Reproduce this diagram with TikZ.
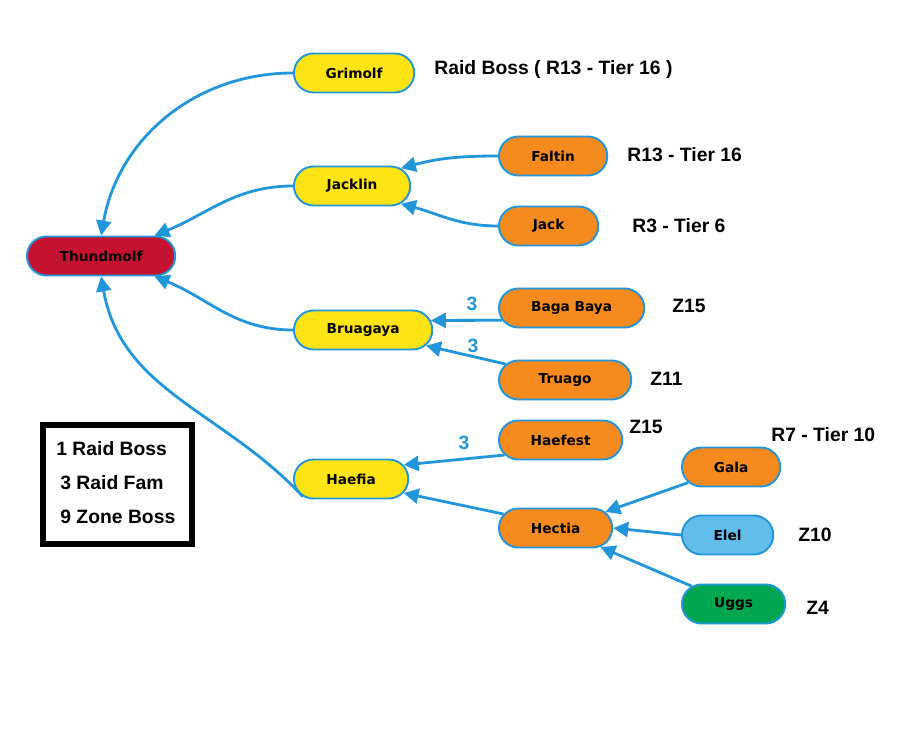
\documentclass[tikz,border=0pt]{standalone}
\usepackage{xcolor}
\usepackage{fontspec}
\setmainfont{Liberation Sans}
\newfontfamily\boxfont{DejaVu Sans}
\usepackage{tikz}
\usetikzlibrary{shapes,arrows.meta,positioning,shapes.misc}
\definecolor{myblue}{RGB}{33,150,219}
\definecolor{myyellow}{RGB}{255,228,20}
\definecolor{myred}{RGB}{196,18,48}
\definecolor{myorange}{RGB}{245,138,31}
\definecolor{mylightblue}{RGB}{98,189,235}
\definecolor{mygreen}{RGB}{0,166,80}

\begin{document}
\begin{tikzpicture}[
  box/.style={rounded rectangle, draw=myblue, line width=1.1pt,
              minimum height=0.78cm, anchor=west, text=black,
              font=\boxfont\bfseries\fontsize{7.8}{9}\selectfont},
  lbl/.style={anchor=west, inner sep=0pt, font=\bfseries\fontsize{11}{13}\selectfont},
  num/.style={text=myblue, inner sep=0pt, font=\bfseries\fontsize{11}{13}\selectfont},
  link/.style={draw=myblue, line width=1.6pt, -{Triangle[length=8.5pt,width=8.5pt]}}
]
  \useasboundingbox (0,0) rectangle (18.18,-14.58);

  \node[box, fill=myred, minimum width=3.20cm] (thund) at (0.52,-5.12) {Thundmolf};
  \node[box, fill=myyellow, minimum width=2.64cm] (grimolf) at (5.86,-1.46) {Grimolf};
  \node[box, fill=myyellow, minimum width=2.56cm] (jacklin) at (5.86,-3.72) {Jacklin};
  \node[box, fill=myyellow, minimum width=3.00cm] (bruagaya) at (5.86,-6.60) {Bruagaya};
  \node[box, fill=myyellow, minimum width=2.52cm] (haefia) at (5.86,-9.58) {Haefia};
  \node[box, fill=myorange, minimum width=2.40cm] (faltin) at (9.96,-3.12) {Faltin};
  \node[box, fill=myorange, minimum width=2.22cm] (jack) at (9.96,-4.52) {Jack};
  \node[box, fill=myorange, minimum width=3.14cm] (bagabaya) at (9.96,-6.16) {Baga Baya};
  \node[box, fill=myorange, minimum width=2.88cm] (truago) at (9.96,-7.60) {Truago};
  \node[box, fill=myorange, minimum width=2.70cm] (haefest) at (9.96,-8.80) {Haefest};
  \node[box, fill=myorange, minimum width=2.50cm] (hectia) at (9.96,-10.56) {Hectia};
  \node[box, fill=myorange, minimum width=2.20cm] (gala) at (13.62,-9.34) {Gala};
  \node[box, fill=mylightblue, minimum width=2.06cm] (elel) at (13.62,-10.70) {Elel};
  \node[box, fill=mygreen, minimum width=2.30cm] (uggs) at (13.62,-12.08) {Uggs};

  \node[lbl] (grimolftier) at (8.68,-1.40) {Raid Boss ( R13 - Tier 16 )};
  \node[lbl] (faltintier) at (12.54,-3.10) {R13 - Tier 16};
  \node[lbl] (jacktier) at (12.64,-4.52) {R3 - Tier 6};
  \node[lbl] (bagazone) at (13.44,-6.12) {Z15};
  \node[lbl] (truagozone) at (13.00,-7.58) {Z11};
  \node[lbl] (haefestzone) at (12.58,-8.54) {Z15};
  \node[lbl] (galatier) at (15.42,-8.70) {R7 - Tier 10};
  \node[lbl] (elelzone) at (15.96,-10.70) {Z10};
  \node[lbl] (uggszone) at (16.12,-12.16) {Z4};

  \node[num] (bagacount) at (9.44,-6.08) {3};
  \node[num] (truagocount) at (9.46,-6.92) {3};
  \node[num] (haefestcount) at (9.28,-8.86) {3};

  \node[draw, line width=3.4pt, minimum width=2.98cm, minimum height=2.38cm,
        inner sep=0pt] (legend) at (2.35,-9.69) {};
  \node[lbl] (legendraid) at (1.12,-8.98) {1 Raid Boss};
  \node[lbl] (legendfam) at (1.20,-9.66) {3 Raid Fam};
  \node[lbl] (legendzone) at (1.20,-10.34) {9 Zone Boss};

  \draw[link] (grimolf.west) to[out=180,in=80] (thund.north);
  \draw[link] (jacklin.west) to[out=180,in=22] (thund.21);
  \draw[link] (bruagaya.west) to[out=180,in=-22] (thund.-21);
  \draw[link] (haefia.200) to[out=133,in=-80] (thund.south);
  \draw[link] (faltin.west) to[out=180,in=15] (jacklin.20);
  \draw[link] (jack.west) to[out=180,in=-15] (jacklin.-20);
  \draw[link] (bagabaya.190) -- (bruagaya.8);
  \draw[link] (truago.165) -- (bruagaya.-14);
  \draw[link] (haefest.195) -- (haefia.15);
  \draw[link] (hectia.165) -- (haefia.-15);
  \draw[link] (gala.200) -- (hectia.18);
  \draw[link] (elel.west) -- (hectia.east);
  \draw[link] (uggs.157) -- (hectia.-23);
\end{tikzpicture}
\end{document}
